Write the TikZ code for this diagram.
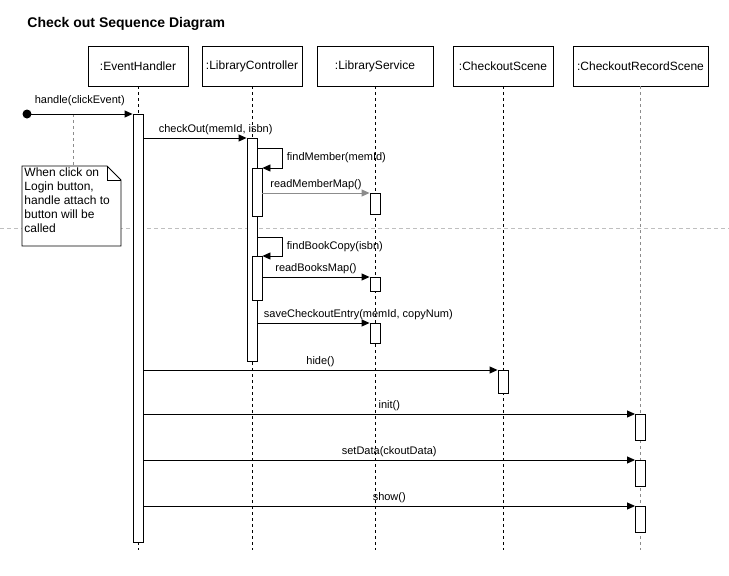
\documentclass[tikz,border=0pt]{standalone}
\usepackage{fontspec}
\setmainfont{Liberation Sans}
\usetikzlibrary{arrows.meta}
\definecolor{line gray}{rgb}{0.55, 0.55, 0.55}
\definecolor{divider gray}{rgb}{0.75, 0.75, 0.75}

\tikzset{
	object/.style = {draw, minimum width=100pt, minimum height=40pt, inner sep=0pt, font=\fontsize{12}{14}\selectfont},
	bar/.style = {draw, fill=white, minimum width=10pt, inner sep=0pt, anchor=north},
	lifeline/.style = {dash pattern=on 3pt off 3pt},
	call/.style = {-{Triangle[length=8pt, width=7pt]}},
	msg/.style = {font=\fontsize{11}{13}\selectfont, inner sep=0pt},
	notetext/.style = {anchor=north west, inner xsep=2pt, inner ysep=1pt, align=left, font=\fontsize{12}{14}\selectfont}
}

\begin{document}
\begin{tikzpicture}[x=1pt, y=-1pt, line width=0.9pt]
			\useasboundingbox (0,0) rectangle (729,576);
			% title
			\node[anchor=west, inner sep=0pt, font=\fontsize{14}{16}\selectfont\bfseries] (title) at (27,24) {Check out Sequence Diagram};
			% objects
			\node[object] (eh) at (138,66) {:EventHandler};
			\node[object] (lc) at (252,66) {:LibraryController};
			\node[object, minimum width=116pt] (ls) at (375,66) {:LibraryService};
			\node[object] (cs) at (503,66) {:CheckoutScene};
			\node[object, minimum width=135pt] (crs) at (640.5,66) {:CheckoutRecordScene};
			% divider
			\draw[divider gray, dash pattern=on 4pt off 3pt] (0,228) -- (729,228);
			% lifelines
			\foreach \o in {eh, lc, ls, cs}
				\draw[lifeline] (\o.south) -- (\o.south |- 0,550);
			\draw[lifeline, line gray] (crs.south) -- (crs.south |- 0,550);
			% activations
			\node[bar, minimum height=428pt] (ehbar) at (138,114) {};
			\node[bar, minimum height=223pt] (lcbar) at (252,138) {};
			\node[bar, minimum height=48pt] (lcbar2) at (257,168) {};
			\node[bar, minimum height=44pt] (lcbar3) at (257,256) {};
			\node[bar, minimum height=21pt] (lsbar1) at (375,193) {};
			\node[bar, minimum height=14pt] (lsbar2) at (375,277) {};
			\node[bar, minimum height=20pt] (lsbar3) at (375,323) {};
			\node[bar, minimum height=23pt] (csbar) at (503,370) {};
			\node[bar, minimum height=26pt] (crsbar1) at (640.5,414) {};
			\node[bar, minimum height=26pt] (crsbar2) at (640.5,460) {};
			\node[bar, minimum height=26pt] (crsbar3) at (640.5,506) {};
			% note
			\coordinate (hook) at (73,114);
			\coordinate (notecorner) at (22,166);
			\draw[lifeline, line gray] (hook) -- (hook |- notecorner);
			\draw[fill=white] (notecorner) -- ++(85,0) -- ++(14,14) -- ++(0,66) -- ++(-99,0) -- cycle;
			\draw (notecorner) ++(85,0) -- ++(0,14) -- ++(14,0);
			\node[notetext] (note) at (notecorner) {When click on\\Login button,\\handle attach to\\button will be\\called};
			% messages
			\fill (27,114) coordinate (start) circle (4.5pt);
			\draw[call] (start) -- (ehbar.north west) node[msg, midway, above=8pt] {handle(clickEvent)};
			\draw[call] (ehbar.east |- lcbar.north) -- (lcbar.north west) node[msg, pos=0.7, above=3pt] {checkOut(memId, isbn)};
			\draw[call] (lcbar.east |- 0,148) -- ++(25,0) -- ++(0,20) node[msg, midway, right=4pt] {findMember(memId)} -- (lcbar2.north east);
			\draw[call, line gray] (lcbar2.east |- lsbar1.north) -- (lsbar1.north west) node[msg, midway, above=3pt, black] {readMemberMap()};
			\draw[call] (lcbar.east |- 0,237) -- ++(25,0) -- ++(0,19) node[msg, midway, right=4pt] {findBookCopy(isbn)} -- (lcbar3.north east);
			\draw[call] (lcbar3.east |- lsbar2.north) -- (lsbar2.north west) node[msg, midway, above=3pt] {readBooksMap()};
			\draw[call] (lcbar.east |- lsbar3.north) -- (lsbar3.north west) node[msg, pos=0.9, above=3pt] {saveCheckoutEntry(memId, copyNum)};
			\draw[call] (ehbar.east |- csbar.north) -- (csbar.north west) node[msg, midway, above=3pt] {hide()};
			\draw[call] (ehbar.east |- crsbar1.north) -- (crsbar1.north west) node[msg, midway, above=3pt] {init()};
			\draw[call] (ehbar.east |- crsbar2.north) -- (crsbar2.north west) node[msg, midway, above=3pt] {setData(ckoutData)};
			\draw[call] (ehbar.east |- crsbar3.north) -- (crsbar3.north west) node[msg, midway, above=3pt] {show()};
		\end{tikzpicture}
\end{document}
